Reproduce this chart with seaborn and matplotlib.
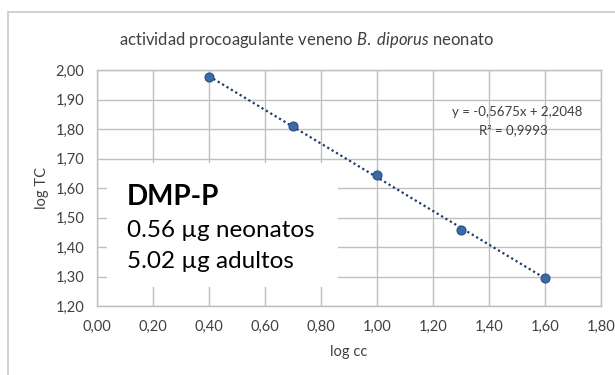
import numpy as np
import pandas as pd
import matplotlib
matplotlib.use("Agg")
import matplotlib.pyplot as plt
from matplotlib.patches import Rectangle
import seaborn as sns

# data
log_cc = [0.40, 0.70, 1.00, 1.30, 1.60]
log_tc = [1.975, 1.810, 1.645, 1.457, 1.295]
x_ticks = [0.00, 0.20, 0.40, 0.60, 0.80, 1.00, 1.20, 1.40, 1.60, 1.80]
y_ticks = [1.20, 1.30, 1.40, 1.50, 1.60, 1.70, 1.80, 1.90, 2.00]
eq_text = "y = -0,5675x + 2,2048"
r2_text = "R² = 0,9993"
box_lines = ["DMP-P", "0.56 µg neonatos", "5.02 µg adultos"]

sns.set_theme(style="white")
plt.rcParams["font.family"] = ["Lato", "DejaVu Sans"]
plt.rcParams["mathtext.fontset"] = "custom"
plt.rcParams["mathtext.rm"] = "Lato"
plt.rcParams["mathtext.it"] = "Lato:italic"

df = pd.DataFrame({"log cc": log_cc, "log TC": log_tc})

fig = plt.figure(figsize=(6.15, 3.75), dpi=100)
ax = fig.add_axes([97 / 615, 1 - 306 / 375, 504 / 615, 236 / 375])

# outer chart border
fig.patches.append(Rectangle((8 / 615, -0.1), 1.2, 1 - 12 / 375 + 0.1,
                             transform=fig.transFigure, fill=False,
                             edgecolor="#c8c8c8", linewidth=1.2, zorder=0))

grid_c = "#bfbfbf"
sns.regplot(data=df, x="log cc", y="log TC", ax=ax, scatter=False, ci=None,
            line_kws=dict(color="#1f3a6e", linestyle=(0, (1, 1.3)), linewidth=1.6, zorder=3))
sns.scatterplot(data=df, x="log cc", y="log TC", ax=ax, color="#3b6aa8",
                edgecolor="#2a4f82", linewidth=0.8, s=42, zorder=4)

ax.set_xlim(0, 1.8)
ax.set_ylim(1.2, 2.0)
ax.set_xticks(x_ticks)
ax.set_yticks(y_ticks)
ax.set_xticklabels([f"{v:.2f}".replace(".", ",") for v in x_ticks])
ax.set_yticklabels([f"{v:.2f}".replace(".", ",") for v in y_ticks])
ax.grid(True, color=grid_c, linewidth=1)
ax.set_axisbelow(True)
for s in ax.spines.values():
    s.set_color(grid_c)
    s.set_linewidth(1)
ax.tick_params(length=0, labelsize=10.5, labelcolor="#404040")
ax.tick_params(axis="y", pad=9)
ax.tick_params(axis="x", pad=10)

ax.set_xlabel("log cc", fontsize=10.5, color="#404040", labelpad=8)
ax.set_ylabel("log TC", fontsize=10.5, color="#404040", labelpad=5)

fig.text(307 / 615, 1 - 40 / 375,
         r"actividad procoagulante veneno $\it{B.\ diporus}$ neonato",
         ha="center", va="center", fontsize=12, color="#404040")

# trendline label
ax.text(1.50, 1.858, eq_text, ha="center", va="center", fontsize=9.5, color="#404040")
ax.text(1.486, 1.797, r2_text, ha="center", va="center", fontsize=9.5, color="#404040")

# white text box
ax.add_patch(Rectangle((0.036, 1.264), 0.825, 0.421, facecolor="white",
                       edgecolor="none", zorder=2))
ax.text(0.107, 1.542, box_lines[0], fontsize=20, fontweight="bold", color="black", zorder=5)
ax.text(0.107, 1.434, box_lines[1], fontsize=17.5, color="black", zorder=5)
ax.text(0.107, 1.329, box_lines[2], fontsize=17.5, color="black", zorder=5)

fig.savefig("out.png", dpi=100)
